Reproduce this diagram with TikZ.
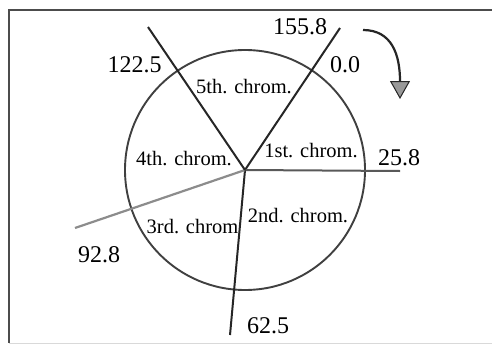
\documentclass[tikz,border=0pt]{standalone}
\usepackage{fontspec}
\setmainfont{Liberation Serif}
\usetikzlibrary{arrows.meta}
\begin{document}
\begin{tikzpicture}[x=1pt,y=-1pt,
  num/.style={anchor=base,inner sep=0pt,font=\fontsize{24}{24}\selectfont},
  lab/.style={anchor=base,inner sep=0pt,font=\fontsize{20.5}{20.5}\selectfont},
  spoke/.style={line width=2pt,black!85},
  greyspoke/.style={line width=2.2pt,black!45},
  ring/.style={line width=1.9pt,black!75}]
\useasboundingbox (0,0) rectangle (492,345);
% frame
\draw[line width=1.8pt,black!70] (492,10) -- (9,10) -- (9,343);
\draw[line width=0.8pt,black!15] (9,343) -- (492,343);
% circle
\coordinate (c) at (245,170);
\draw[ring] (c) circle[radius=120];
% spoke ends
\coordinate (e0) at (340,28);
\coordinate (e1) at (400,171);
\coordinate (e2) at (230,335);
\coordinate (e3) at (75,228);
\coordinate (e4) at (148,27);
\draw[spoke] (c) -- (e0);
\draw[spoke,black!65] (c) -- (e1);
\draw[spoke] (c) -- (e2);
\draw[greyspoke] (c) -- (e3);
\draw[spoke] (c) -- (e4);
% labels
\node[num] (n1558) at (300,35) {155.8};
\node[num] (n00) at (345,72) {0.0};
\node[num] (n1225) at (134.5,72) {122.5};
\node[num] (n258) at (399,165) {25.8};
\node[num] (n928) at (99,262) {92.8};
\node[num] (n625) at (268,333) {62.5};
\node[lab] (l5) at (244,93) {5th. chrom.};
\node[lab] (l4) at (184,165) {4th. chrom.};
\node[lab] (l1) at (311,157) {1st. chrom.};
\node[lab] (l2) at (298,222) {2nd. chrom.};
\node[lab] (l3) at (192.5,233) {3rd. chrom};
% rotation arrow
\coordinate (a0) at (363,30);
\coordinate (a1) at (400,99);
\draw[line width=2.2pt,black!85,-{Triangle[width=20pt,length=18pt,fill=black!40,line width=1pt]}]
  (a0) .. controls (392,30) and (400,55) .. (a1);
\end{tikzpicture}
\end{document}
